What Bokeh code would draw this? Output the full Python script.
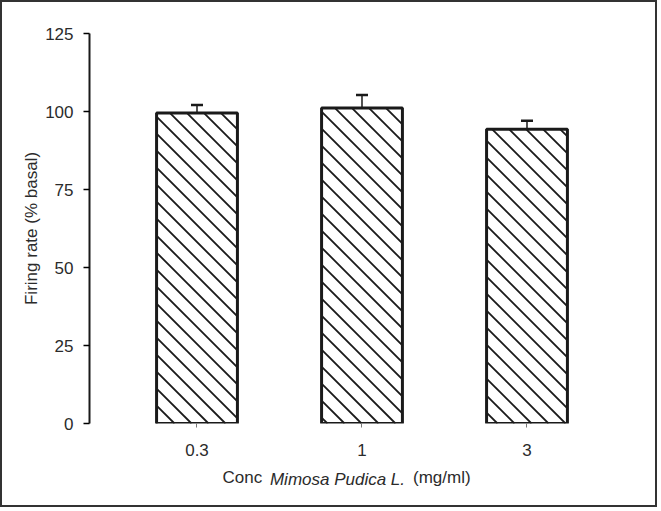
from bokeh.plotting import figure
from bokeh.models import (FixedTicker, Whisker, ColumnDataSource, TeeHead,
                          Range1d, LinearAxis)
from bokeh.embed import file_html
from bokeh.resources import INLINE

# data
conc_labels = ["0.3", "1", "3"]
firing_rate = [99.5, 101.1, 94.3]
sem = [2.6, 4.2, 2.7]

FONT = "Liberation Sans"
TXT = "#2b2b2b"
INK = "#1a1a1a"

xpos = [1, 2, 3]
bar_w = 0.49
X0, X1 = 0.3485, 3.6576
Y0, Y1 = 0, 125
W, H = 657, 507
ML, MR, MT, MB = 87, 24, 31, 86

src = ColumnDataSource(dict(
    x=xpos,
    top=firing_rate,
    upper=[v + e for v, e in zip(firing_rate, sem)],
))

p = figure(width=W, height=H, output_backend="svg", toolbar_location=None,
           x_range=Range1d(X0, X1), y_range=Range1d(Y0, Y1),
           min_border_left=ML, min_border_right=MR, min_border_top=MT,
           min_border_bottom=MB)
p.styles = {"border": "2px solid #333333"}
p.outline_line_color = None
p.grid.grid_line_color = None
p.background_fill_color = "white"

# 45 degree "\" hatch lines, clipped to each bar (computed in screen pixels)
kx = (W - ML - MR) / (X1 - X0)
ky = (H - MT - MB) / (Y1 - Y0)
S = 17.0
hx0, hy0, hx1, hy1 = [], [], [], []
for c, t in zip(xpos, firing_rate):
    XL = (c - bar_w / 2 - X0) * kx
    XR = (c + bar_w / 2 - X0) * kx
    YT = t * ky
    for n in range(int(XL // S), int((XR + YT) // S) + 2):
        b = n * S
        xa, xb = max(XL, b - YT), min(XR, b)
        if xb <= xa:
            continue
        hx0.append(X0 + xa / kx); hy0.append((b - xa) / ky)
        hx1.append(X0 + xb / kx); hy1.append((b - xb) / ky)
p.segment(hx0, hy0, hx1, hy1, line_color=INK, line_width=1.8)

# bar outlines
p.vbar(x="x", top="top", bottom=0, width=bar_w, source=src,
       fill_color=None, line_color=INK, line_width=3)

# upper error bars only
err = Whisker(base="x", lower="top", upper="upper", source=src,
              line_color=INK, line_width=1.5,
              upper_head=TeeHead(size=12, line_width=2.5, line_color=INK),
              lower_head=None)
p.add_layout(err)

# y axis
p.yaxis.ticker = FixedTicker(ticks=[0, 25, 50, 75, 100, 125])
p.yaxis.axis_line_width = 2
p.yaxis.axis_line_color = INK
p.yaxis.major_tick_out = 6
p.yaxis.major_tick_in = 0
p.yaxis.major_tick_line_width = 1.5
p.yaxis.minor_tick_line_color = None
p.yaxis.major_label_standoff = 10
p.yaxis.major_label_text_font = FONT
p.yaxis.major_label_text_font_size = "17px"
p.yaxis.major_label_text_color = TXT
p.yaxis.axis_label = "Firing rate (% basal)"
p.yaxis.axis_label_text_font = FONT
p.yaxis.axis_label_text_font_style = "normal"
p.yaxis.axis_label_text_font_size = "17px"
p.yaxis.axis_label_text_color = TXT
p.yaxis.axis_label_standoff = 1

# x axis: no line, tiny ticks
p.xaxis.ticker = FixedTicker(ticks=xpos)
p.xaxis.major_label_overrides = {x: l for x, l in zip(xpos, conc_labels)}
p.xaxis.axis_line_color = None
p.xaxis.major_tick_out = 4
p.xaxis.major_tick_in = 0
p.xaxis.major_tick_line_color = "#777777"
p.xaxis.major_tick_line_width = 1
p.xaxis.minor_tick_line_color = None
p.xaxis.major_label_standoff = 16
p.xaxis.major_label_text_font = FONT
p.xaxis.major_label_text_font_size = "17px"
p.xaxis.major_label_text_color = TXT

# x axis title "Conc Mimosa Pudica L. (mg/ml)" with the italic part on its own
# label-only axis, lifted into the same row
x_conc, x_mim, x_unit = 1.2746, 1.8515, 2.4836


def title_axis(ticks, texts, style, standoff):
    ax = LinearAxis(ticker=FixedTicker(ticks=ticks),
                    major_label_overrides=dict(zip(ticks, texts)))
    ax.axis_line_color = None
    ax.major_tick_line_color = None
    ax.minor_tick_line_color = None
    ax.major_tick_out = 0
    ax.major_tick_in = 0
    ax.major_label_standoff = standoff
    ax.major_label_text_font = FONT
    ax.major_label_text_font_size = "17px"
    ax.major_label_text_font_style = style
    ax.major_label_text_color = TXT
    p.add_layout(ax, "below")


title_axis([x_conc, x_unit], ["Conc", "(mg/ml)"], "normal", 9)
title_axis([x_mim], ["Mimosa Pudica L."], "italic", -20)

open("out.html", "w").write(file_html(p, INLINE))
